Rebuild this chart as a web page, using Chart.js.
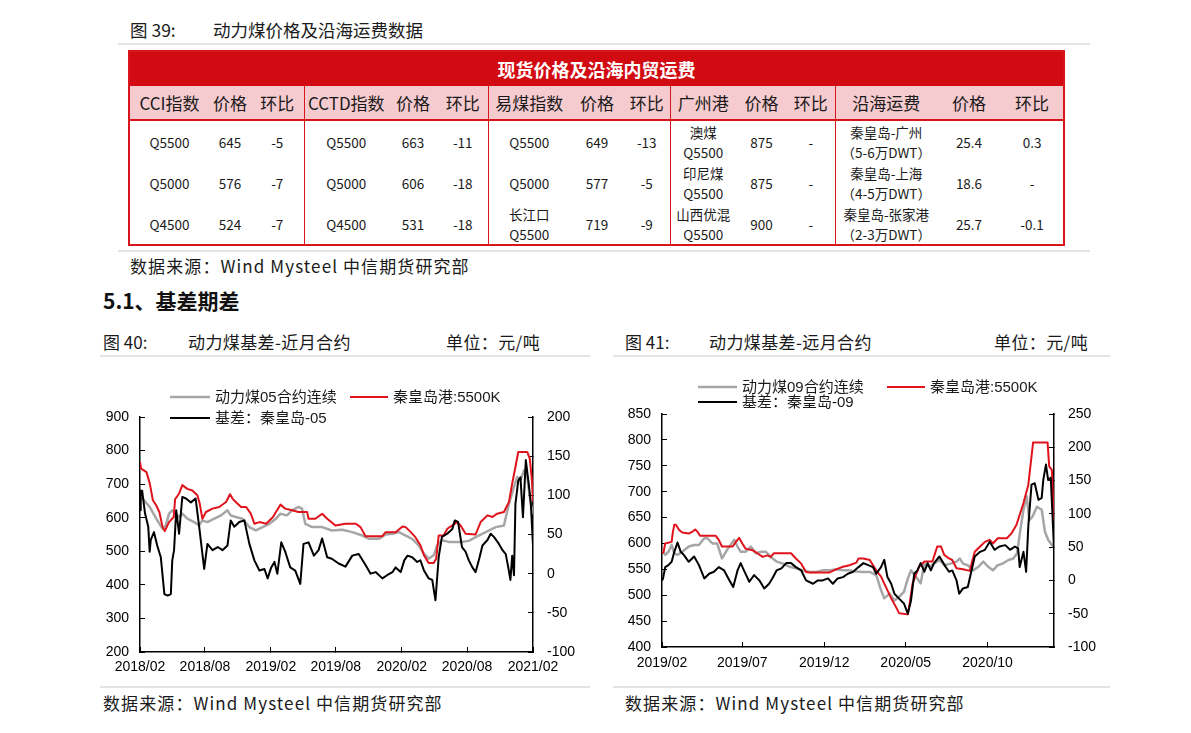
<!DOCTYPE html>
<html>
<head>
<meta charset="utf-8">
<script src="https://cdn.jsdelivr.net/npm/chart.js@4.4.1/dist/chart.umd.min.js"></script>
<style>
  body { margin: 0; background: #fff; font-family: "Noto Sans CJK SC", sans-serif; color: #1a1a1a; }
  .page { position: relative; width: 1191px; height: 733px; overflow: hidden; }
  .abs { position: absolute; white-space: nowrap; }
  .rule { position: absolute; height: 2px; background: #e4e4e4; }
  .cap { font-size: 17px; line-height: 22px; letter-spacing: 0.4px; }
  .src { letter-spacing: 1.1px; }
  .cap .no { display: inline-block; letter-spacing: 0; }
  table.spot { position: absolute; left: 128px; top: 50px; width: 935px; border-collapse: collapse;
    table-layout: fixed; border: 2.5px solid #d8141d; }
  table.spot td { padding: 0; text-align: center; vertical-align: middle; white-space: nowrap; }
  tr.title td { height: 34px; background: #d20a11; color: #fff; font-size: 18px; font-weight: bold; }
  tr.head td { height: 33px; background: #f6cbcf; font-size: 17px; border-bottom: 2px solid #d8141d; }
  tr.row td { height: 41px; font-size: 13.5px; line-height: 20px; }
  td.gs { border-left: 1.5px solid #d8141d; }
  canvas { position: absolute; }
</style>
</head>
<body>
<div class="page">

  <div class="abs cap" style="left:130px; top:19px; font-size:17.5px; letter-spacing:0;"><span class="no" style="width:83px;">图 39:</span>动力煤价格及沿海运费数据</div>
  <div class="rule" style="left:118px; top:43px; width:972px;"></div>

  <table class="spot">
    <colgroup>
      <col style="width:80px"><col style="width:42px"><col style="width:53px">
      <col style="width:84px"><col style="width:50px"><col style="width:50px">
      <col style="width:82px"><col style="width:54px"><col style="width:46px">
      <col style="width:66px"><col style="width:51px"><col style="width:48px">
      <col style="width:102px"><col style="width:64px"><col style="width:63px">
    </colgroup>
    <tr class="title"><td colspan="15">现货价格及沿海内贸运费</td></tr>
    <tr class="head">
      <td>CCI指数</td><td>价格</td><td>环比</td>
      <td class="gs">CCTD指数</td><td>价格</td><td>环比</td>
      <td class="gs">易煤指数</td><td>价格</td><td>环比</td>
      <td class="gs">广州港</td><td>价格</td><td>环比</td>
      <td class="gs">沿海运费</td><td>价格</td><td>环比</td>
    </tr>
    <tr class="row">
      <td>Q5500</td><td>645</td><td>-5</td>
      <td class="gs">Q5500</td><td>663</td><td>-11</td>
      <td class="gs">Q5500</td><td>649</td><td>-13</td>
      <td class="gs">澳煤<br>Q5500</td><td>875</td><td>-</td>
      <td class="gs">秦皇岛-广州<br>（5-6万DWT）</td><td>25.4</td><td>0.3</td>
    </tr>
    <tr class="row">
      <td>Q5000</td><td>576</td><td>-7</td>
      <td class="gs">Q5000</td><td>606</td><td>-18</td>
      <td class="gs">Q5000</td><td>577</td><td>-5</td>
      <td class="gs">印尼煤<br>Q5500</td><td>875</td><td>-</td>
      <td class="gs">秦皇岛-上海<br>（4-5万DWT）</td><td>18.6</td><td>-</td>
    </tr>
    <tr class="row">
      <td>Q4500</td><td>524</td><td>-7</td>
      <td class="gs">Q4500</td><td>531</td><td>-18</td>
      <td class="gs">长江口<br>Q5500</td><td>719</td><td>-9</td>
      <td class="gs">山西优混<br>Q5500</td><td>900</td><td>-</td>
      <td class="gs">秦皇岛-张家港<br>（2-3万DWT）</td><td>25.7</td><td>-0.1</td>
    </tr>
  </table>

  <div class="rule" style="left:118px; top:250px; width:972px;"></div>
  <div class="abs cap src" style="left:130px; top:255px;">数据来源：Wind Mysteel 中信期货研究部</div>

  <div class="abs" style="left:103px; top:287px; font-size:21px; line-height:26px; font-weight:bold; color:#111;">5.1、基差期差</div>

  <div class="abs cap" style="left:103px; top:331px;"><span class="no" style="width:85px;">图 40:</span>动力煤基差-近月合约</div>
  <div class="abs cap" style="left:446px; top:331px;">单位：元/吨</div>
  <div class="rule" style="left:100px; top:355px; width:490px;"></div>

  <div class="abs cap" style="left:625px; top:331px;"><span class="no" style="width:84px;">图 41:</span>动力煤基差-远月合约</div>
  <div class="abs cap" style="left:994px; top:331px;">单位：元/吨</div>
  <div class="rule" style="left:613px; top:355px; width:497px;"></div>

  <canvas id="nearChart" width="490" height="320" style="left:100px; top:360px;"></canvas>
  <canvas id="farChart" width="497" height="320" style="left:613px; top:360px;"></canvas>

  <div class="rule" style="left:100px; top:686px; width:490px;"></div>
  <div class="abs cap src" style="left:103px; top:692px;">数据来源：Wind Mysteel 中信期货研究部</div>
  <div class="rule" style="left:613px; top:686px; width:497px;"></div>
  <div class="abs cap src" style="left:625px; top:692px;">数据来源：Wind Mysteel 中信期货研究部</div>
</div>

<script>
/* ========= 图40 近月合约 DATA ========= */

const nearLabels = ["动力煤05合约连续", "秦皇岛港:5500K", "基差：秦皇岛-05"];
const nearXTicks = ["2018/02", "2018/08", "2019/02", "2019/08", "2020/02", "2020/08", "2021/02"];

const nearFutDates = ["2018-02-01","2018-02-10","2018-02-28","2018-03-16","2018-04-05","2018-04-14","2018-04-23","2018-05-02","2018-05-21","2018-05-30",
  "2018-06-13","2018-07-02","2018-07-16","2018-07-25","2018-08-08","2018-08-27","2018-09-15","2018-10-03","2018-10-12","2018-10-26",
  "2018-11-14","2018-12-03","2018-12-21","2019-01-09","2019-01-28","2019-02-15","2019-02-28","2019-03-18","2019-04-01","2019-04-19",
  "2019-04-29","2019-05-08","2019-05-27","2019-06-24","2019-07-21","2019-08-19","2019-09-16","2019-10-14","2019-11-02","2019-11-29",
  "2019-12-18","2020-01-06","2020-01-24","2020-02-12","2020-03-01","2020-03-19","2020-04-03","2020-04-16","2020-04-30","2020-05-10",
  "2020-05-23","2020-06-11","2020-06-30","2020-07-18","2020-08-06","2020-08-25","2020-09-22","2020-10-20","2020-11-12","2020-11-26",
  "2020-12-10","2020-12-19","2020-12-28","2021-01-07","2021-01-16","2021-01-26","2021-02-01"];
const nearFutValues = [657,655,632,602,567,577,612,622,602,612,
  597,587,577,592,587,597,607,622,607,602,
  597,572,562,572,582,597,612,607,622,632,
  627,582,572,572,562,564,557,547,537,537,
  550,552,557,547,537,518,493,478,488,518,
  533,528,528,528,531,542,557,572,577,642,
  692,721,711,741,721,640,610];

const nearSpotDates = ["2018-02-01","2018-02-04","2018-02-19","2018-02-28","2018-03-09","2018-03-18","2018-03-27","2018-04-05","2018-04-11","2018-04-23",
  "2018-05-06","2018-05-10","2018-05-21","2018-05-30","2018-06-13","2018-06-27","2018-07-11","2018-07-17","2018-07-25","2018-08-04",
  "2018-08-22","2018-09-10","2018-09-29","2018-10-10","2018-10-17","2018-10-26","2018-11-10","2018-11-24","2018-12-07","2018-12-17",
  "2018-12-31","2019-01-19","2019-02-07","2019-02-15","2019-02-28","2019-03-13","2019-04-01","2019-04-19","2019-05-13","2019-05-17",
  "2019-06-05","2019-06-24","2019-07-08","2019-07-31","2019-08-28","2019-09-26","2019-10-09","2019-10-23","2019-12-09","2019-12-18",
  "2020-01-15","2020-02-03","2020-02-12","2020-02-26","2020-03-10","2020-03-24","2020-04-03","2020-04-16","2020-04-30","2020-05-07",
  "2020-05-14","2020-05-28","2020-06-07","2020-06-21","2020-07-04","2020-07-14","2020-07-28","2020-08-25","2020-09-08","2020-09-27",
  "2020-10-11","2020-10-24","2020-11-12","2020-11-26","2020-12-05","2020-12-14","2020-12-22","2021-01-16","2021-01-23","2021-01-29",
  "2021-02-01"];
const nearSpotValues = [766,746,736,703,652,637,617,572,560,587,
  602,655,672,697,686,681,667,645,597,617,
  627,632,647,670,657,647,632,632,612,582,
  587,582,602,617,639,627,622,617,617,597,
  597,612,597,577,582,582,572,545,545,557,
  557,574,572,557,542,518,488,465,465,478,
  547,547,567,577,587,577,552,550,587,607,
  602,612,617,647,702,751,796,796,776,711,
  647];

const nearBasisDates = ["2018-02-01","2018-02-03","2018-02-07","2018-02-15","2018-02-24","2018-02-28","2018-03-03","2018-03-12","2018-03-21","2018-03-31",
  "2018-04-10","2018-04-19","2018-04-28","2018-05-02","2018-05-07","2018-05-13","2018-05-21","2018-05-30","2018-06-09","2018-06-23",
  "2018-07-06","2018-07-16","2018-07-30","2018-08-08","2018-08-22","2018-09-06","2018-09-19","2018-10-03","2018-10-12","2018-10-22",
  "2018-11-05","2018-11-19","2018-12-03","2018-12-17","2018-12-31","2019-01-14","2019-01-23","2019-02-02","2019-02-11","2019-02-19",
  "2019-03-02","2019-03-13","2019-03-27","2019-04-10","2019-04-24","2019-05-03","2019-05-17","2019-06-01","2019-06-14","2019-06-24",
  "2019-07-08","2019-07-21","2019-08-09","2019-08-28","2019-09-16","2019-10-04","2019-10-23","2019-11-06","2019-11-20","2019-12-09",
  "2019-12-22","2020-01-06","2020-01-15","2020-01-29","2020-02-08","2020-02-17","2020-03-01","2020-03-15","2020-03-24","2020-04-03",
  "2020-04-16","2020-04-26","2020-05-05","2020-05-14","2020-05-23","2020-06-07","2020-06-21","2020-06-28","2020-07-07","2020-07-18",
  "2020-07-28","2020-08-06","2020-08-16","2020-08-25","2020-09-04","2020-09-13","2020-09-27","2020-10-06","2020-10-15","2020-10-29",
  "2020-11-08","2020-11-17","2020-11-24","2020-11-30","2020-12-05","2020-12-10","2020-12-14","2020-12-22","2020-12-28","2021-01-04",
  "2021-01-12","2021-01-21","2021-01-26","2021-02-01"];
const nearBasisValues = [81,106,106,77,60,28,43,53,36,21,
  -26,-28,-26,17,30,81,51,98,96,91,
  96,60,6,38,30,34,30,36,68,60,
  66,68,38,17,4,6,-6,8,15,0,
  40,28,8,4,-13,38,40,23,30,45,
  21,19,13,9,23,25,11,0,2,-6,
  -2,2,8,2,17,23,21,15,17,4,
  -6,-8,-34,21,47,51,57,68,66,34,
  28,17,8,2,19,36,43,51,47,38,
  30,25,8,-8,23,-2,89,119,123,72,
  145,111,89,36];


/* ========= 图41 远月合约 DATA ========= */

const farLabels = ["动力煤09合约连续", "秦皇岛港:5500K", "基差：秦皇岛-09"];
const farXTicks = ["2019/02", "2019/07", "2019/12", "2020/05", "2020/10"];

const farFutDates = ["2019-02-01","2019-02-07","2019-02-13","2019-02-19","2019-02-24","2019-03-02","2019-03-11","2019-03-23","2019-04-02","2019-04-11",
  "2019-04-21","2019-04-27","2019-05-06","2019-05-15","2019-05-24","2019-06-04","2019-06-16","2019-06-22","2019-06-28","2019-07-07",
  "2019-07-17","2019-07-26","2019-08-05","2019-08-14","2019-08-23","2019-09-03","2019-09-15","2019-09-27","2019-10-09","2019-10-22",
  "2019-11-04","2019-11-16","2019-11-28","2019-12-11","2019-12-23","2020-01-05","2020-01-17","2020-01-30","2020-02-12","2020-02-24",
  "2020-03-07","2020-03-16","2020-03-22","2020-04-01","2020-04-10","2020-04-19","2020-04-28","2020-05-05","2020-05-11","2020-05-20",
  "2020-05-29","2020-06-05","2020-06-14","2020-06-23","2020-07-03","2020-07-12","2020-07-24","2020-08-04","2020-08-10","2020-08-16",
  "2020-08-25","2020-09-04","2020-09-14","2020-09-23","2020-10-02","2020-10-11","2020-10-20","2020-10-29","2020-11-09","2020-11-18",
  "2020-11-25","2020-12-02","2020-12-07","2020-12-13","2020-12-18","2020-12-24","2021-01-01","2021-01-10","2021-01-16","2021-01-22",
  "2021-01-29","2021-02-01"];
const farFutValues = [587,578,584,597,581,578,584,594,597,597,
  610,610,600,600,571,590,607,594,584,584,
  594,581,584,584,574,565,561,555,552,548,
  545,545,548,548,550,548,548,546,545,545,
  539,510,494,503,490,497,507,532,548,536,
  523,561,555,561,568,558,561,565,571,561,
  558,548,555,565,555,548,558,561,568,571,
  581,632,665,691,645,652,671,665,623,607,
  597,594];

const farSpotDates = ["2019-02-01","2019-02-04","2019-02-07","2019-02-19","2019-02-21","2019-02-24","2019-02-27","2019-03-05","2019-03-11","2019-03-23",
  "2019-03-30","2019-04-04","2019-04-08","2019-04-13","2019-05-12","2019-05-18","2019-05-24","2019-06-13","2019-06-19","2019-06-25",
  "2019-07-01","2019-07-07","2019-07-20","2019-07-29","2019-08-08","2019-08-17","2019-08-23","2019-08-29","2019-09-30","2019-10-09",
  "2019-10-19","2019-10-28","2019-11-04","2019-12-11","2019-12-23","2020-01-05","2020-01-17","2020-01-30","2020-02-03","2020-02-12",
  "2020-02-24","2020-03-07","2020-03-16","2020-03-25","2020-04-04","2020-04-13","2020-04-19","2020-05-05","2020-05-08","2020-05-14",
  "2020-05-26","2020-06-05","2020-06-20","2020-06-29","2020-07-06","2020-07-12","2020-07-21","2020-07-27","2020-08-04","2020-08-16",
  "2020-08-29","2020-09-01","2020-09-07","2020-09-17","2020-09-26","2020-10-05","2020-10-11","2020-10-20","2020-11-06","2020-11-15",
  "2020-11-24","2020-12-07","2020-12-16","2020-12-25","2021-01-21","2021-01-24","2021-01-29","2021-02-02"];
const farSpotValues = [581,584,600,603,620,636,636,626,621,619,
  623,627,623,615,615,607,594,594,603,611,
  600,590,587,581,574,577,574,581,581,571,
  561,545,544,544,550,555,558,563,571,571,
  568,548,536,516,494,477,465,463,481,523,
  555,565,565,594,594,578,571,568,552,550,
  547,561,584,594,603,607,600,610,610,620,
  636,678,713,795,795,749,742,642];

const farBasisDates = ["2019-02-01","2019-02-03","2019-02-07","2019-02-13","2019-02-19","2019-02-24","2019-03-02","2019-03-08","2019-03-14","2019-03-23",
  "2019-04-02","2019-04-11","2019-04-21","2019-04-30","2019-05-09","2019-05-18","2019-05-28","2019-06-07","2019-06-14","2019-06-22",
  "2019-06-28","2019-07-04","2019-07-14","2019-07-23","2019-08-02","2019-08-11","2019-08-20","2019-08-26","2019-09-03","2019-09-12",
  "2019-09-21","2019-09-30","2019-10-09","2019-10-19","2019-10-28","2019-11-10","2019-11-19","2019-11-28","2019-12-08","2019-12-17",
  "2019-12-26","2020-01-05","2020-01-14","2020-01-24","2020-02-03","2020-02-12","2020-02-21","2020-03-01","2020-03-07","2020-03-16",
  "2020-03-22","2020-03-28","2020-04-04","2020-04-10","2020-04-16","2020-04-22","2020-04-28","2020-05-05","2020-05-11","2020-05-17",
  "2020-05-23","2020-05-29","2020-06-05","2020-06-11","2020-06-17","2020-06-23","2020-07-03","2020-07-09","2020-07-15","2020-07-21",
  "2020-07-27","2020-08-04","2020-08-09","2020-08-16","2020-08-25","2020-09-01","2020-09-07","2020-09-17","2020-09-26","2020-10-05",
  "2020-10-14","2020-10-23","2020-11-03","2020-11-12","2020-11-21","2020-11-27","2020-11-30","2020-12-07","2020-12-12","2020-12-16",
  "2020-12-22","2020-12-28","2021-01-04","2021-01-10","2021-01-13","2021-01-18","2021-01-22","2021-01-27","2021-02-01","2021-02-02"];
const farBasisValues = [0,3,20,23,28,43,57,43,38,28,
  36,23,3,10,13,20,15,0,-10,15,
  26,15,-2,8,0,-12,-5,3,15,18,
  26,26,20,15,0,-5,0,0,3,-5,
  3,5,10,13,20,26,23,20,10,20,
  31,5,-5,-20,-25,-30,-35,-50,-30,10,
  15,26,13,26,15,26,36,28,20,13,
  15,0,-20,-12,-10,15,36,43,46,58,
  46,51,53,46,51,48,20,43,13,81,
  144,146,121,124,151,174,151,154,66,46];


/* ========= HELPERS ========= */

const GRAY = "#a6a6a6";
const RED = "#e0121c";
const BLACK = "#000000";
const tickFont = { family: "'Liberation Sans', Arial, sans-serif", size: 14 };

function toDay(s) {
  const p = s.split(/[-\/]/).map(Number);
  return Date.UTC(p[0], p[1] - 1, p[2] || 1) / 864e5;
}

function toPoints(dates, values) {
  return dates.map((d, i) => ({ x: toDay(d), y: values[i] }));
}

// legend in two columns, drawn on the canvas
const gridLegend = {
  id: "gridLegend",
  afterDraw(chart, args, opts) {
    const ctx = chart.ctx;
    ctx.save();
    ctx.font = opts.font;
    ctx.textBaseline = "middle";
    ctx.fillStyle = "#1a1a1a";
    opts.items.forEach((it, i) => {
      const ds = chart.data.datasets[i];
      ctx.strokeStyle = ds.borderColor;
      ctx.lineWidth = ds.borderWidth;
      ctx.beginPath();
      ctx.moveTo(it.x, it.y);
      ctx.lineTo(it.x + it.len, it.y);
      ctx.stroke();
      ctx.fillText(ds.label, it.x + it.len + 5, it.y + 1);
    });
    ctx.restore();
  }
};

function yAxis(pos, min, max, step, width, pad) {
  return {
    position: pos, min: min, max: max,
    ticks: { stepSize: step, padding: pad, color: "#000", font: tickFont },
    grid: { drawOnChartArea: false, tickLength: -5, color: "#000", lineWidth: 1 },
    border: { color: "#000", width: 1.5 },
    afterFit: s => { s.width = width; }
  };
}

function xAxis(ticks, min, max, height, pad) {
  return {
    type: "linear", min: toDay(min), max: toDay(max),
    afterBuildTicks: s => { s.ticks = ticks.map(t => ({ value: toDay(t) })); },
    ticks: { autoSkip: false, maxRotation: 0, padding: pad, color: "#000", font: tickFont,
      callback: (v, i) => ticks[i] },
    grid: { drawOnChartArea: false, tickLength: -5, color: "#000", lineWidth: 1 },
    border: { color: "#000", width: 1.5 },
    afterFit: s => { s.height = height; }
  };
}

function line(label, data, color, width, axis, order) {
  return { label: label, data: data, borderColor: color, borderWidth: width, yAxisID: axis,
    order: order, pointRadius: 0, tension: 0, borderJoinStyle: "round", fill: false };
}


/* ========= CHARTS ========= */

new Chart(document.getElementById("nearChart"), {
  type: "line",
  data: {
    datasets: [
      line(nearLabels[0], toPoints(nearFutDates, nearFutValues), GRAY, 2.5, "y", 2),
      line(nearLabels[1], toPoints(nearSpotDates, nearSpotValues), RED, 2, "y", 1),
      line(nearLabels[2], toPoints(nearBasisDates, nearBasisValues), BLACK, 2, "y1", 0)
    ]
  },
  options: {
    responsive: false, animation: false, devicePixelRatio: 1,
    layout: { padding: { top: 57, left: 0, right: 0, bottom: 0 } },
    scales: {
      x: xAxis(nearXTicks, "2018-02-01", "2021-02-01", 28, 12),
      y: yAxis("left", 200, 900, 100, 40, 16),
      y1: yAxis("right", -100, 200, 50, 57, 19)
    },
    plugins: {
      legend: { display: false }, tooltip: { enabled: false },
      gridLegend: {
        font: "15px 'Liberation Sans', 'Noto Sans CJK SC', sans-serif",
        items: [{ x: 70, y: 37, len: 40 }, { x: 250, y: 37, len: 38 }, { x: 70, y: 58, len: 40 }]
      }
    }
  },
  plugins: [gridLegend]
});

new Chart(document.getElementById("farChart"), {
  type: "line",
  data: {
    datasets: [
      line(farLabels[0], toPoints(farFutDates, farFutValues), GRAY, 2.5, "y", 2),
      line(farLabels[1], toPoints(farSpotDates, farSpotValues), RED, 2, "y", 1),
      line(farLabels[2], toPoints(farBasisDates, farBasisValues), BLACK, 2, "y1", 0)
    ]
  },
  options: {
    responsive: false, animation: false, devicePixelRatio: 1,
    layout: { padding: { top: 54, left: 0, right: 0, bottom: 0 } },
    scales: {
      x: xAxis(farXTicks, "2019-02-01", "2021-02-02", 33, 13),
      y: yAxis("left", 400, 850, 50, 49, 16),
      y1: yAxis("right", -100, 250, 50, 56, 19)
    },
    plugins: {
      legend: { display: false }, tooltip: { enabled: false },
      gridLegend: {
        font: "15px 'Liberation Sans', 'Noto Sans CJK SC', sans-serif",
        items: [{ x: 85, y: 27, len: 39 }, { x: 274, y: 27, len: 38 }, { x: 85, y: 42, len: 39 }]
      }
    }
  },
  plugins: [gridLegend]
});
</script>
</body>
</html>
